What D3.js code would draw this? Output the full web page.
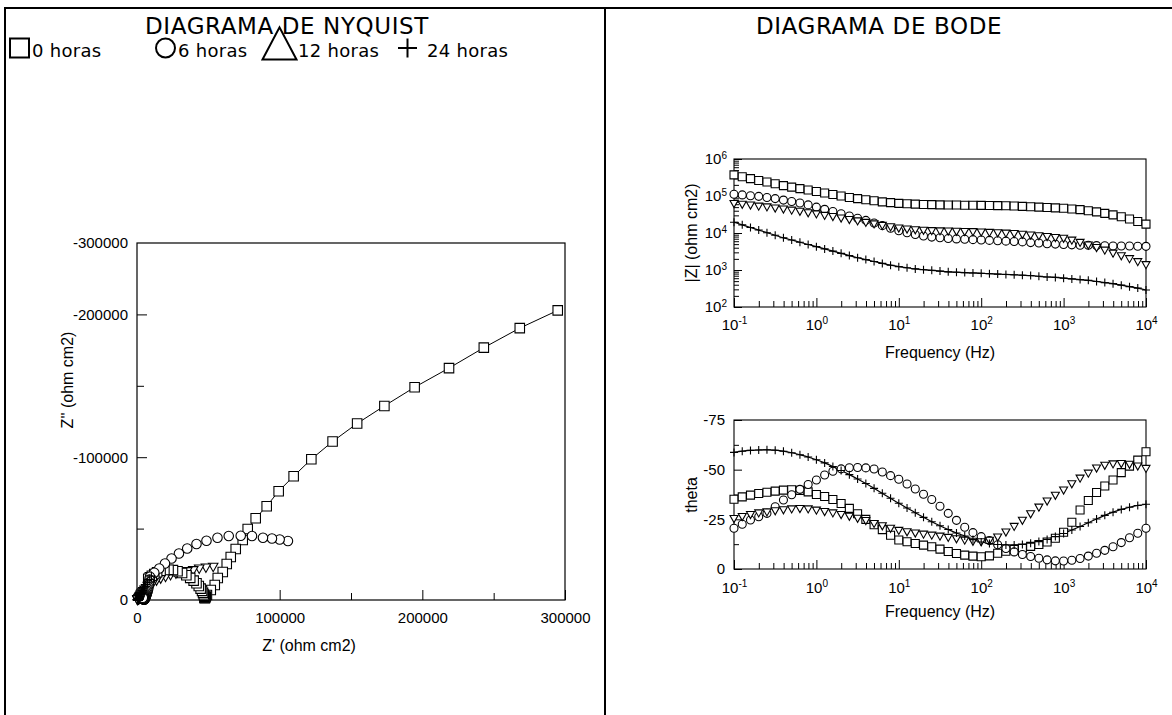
<!DOCTYPE html>
<html>
<head>
<meta charset="utf-8">
<script src="https://cdn.jsdelivr.net/npm/d3@7"></script>
<style>
  body { margin: 0; background: #fff; }
  svg { display: block; }
  text { fill: #000; }
</style>
</head>
<body>
<svg id="chart" width="1172" height="715"></svg>
<script>
// ---- measurement frequencies (Hz), 10 points per decade ----
const freqHz = [0.1,0.1259,0.1585,0.1995,0.2512,0.3162,0.3981,0.5012,0.631,0.7943,
  1,1.259,1.585,1.995,2.512,3.162,3.981,5.012,6.31,7.943,
  10,12.59,15.85,19.95,25.12,31.62,39.81,50.12,63.1,79.43,
  100,125.9,158.5,199.5,251.2,316.2,398.1,501.2,631,794.3,
  1000,1259,1585,1995,2512,3162,3981,5012,6310,7943,10000];

const seriesNames = ["0 horas", "6 horas", "12 horas", "24 horas"];

// ---- |Z| (ohm cm2) ----
const modZ0h = [372000,331000,295000,263000,240000,214000,191000,174000,158000,145000,
  132000,120000,110000,100000,91200,85100,79400,74100,69200,66100,
  63100,61700,60300,58900,58500,57500,57300,57000,56200,56000,
  55800,55500,55000,54500,53700,52500,51300,50100,49000,47900,
  46800,44700,42700,39800,37200,33900,30900,27500,24000,20400,17400];
const modZ6h = [112000,107000,102000,97700,91200,85100,77600,70800,64600,57500,
  50100,43600,38000,33100,28800,25100,21900,18600,15800,13500,
  11500,10200,9120,8320,7760,7410,7080,6920,6760,6610,
  6460,6310,6170,6030,5890,5750,5500,5370,5130,5010,
  4900,4790,4680,4650,4570,4540,4470,4460,4450,4370,4360];
const modZ12h = [63100,60300,57500,53700,51300,47900,44700,41700,38900,35500,
  33100,30200,28200,25700,23400,21400,19500,17800,16200,14800,
  13800,12900,12300,12000,11700,11500,11400,11200,11100,11000,
  10700,10500,10200,10000,9770,9330,8910,8510,8130,7590,
  7240,6460,5620,4790,4070,3470,2880,2450,2040,1700,1410];
const modZ24h = [19500,16600,14100,12000,10200,8710,7410,6460,5620,4900,
  4270,3720,3240,2820,2450,2140,1910,1700,1510,1350,
  1230,1150,1070,1020,977,933,891,871,851,832,
  813,794,776,759,741,724,708,676,646,631,
  603,575,550,525,490,457,427,389,355,324,288];

// ---- phase angle theta (degrees) ----
const theta0h = [-35.1,-36.3,-37.2,-38.0,-38.6,-39.2,-39.7,-39.9,-39.6,-38.8,
  -37.5,-36.5,-35.0,-33.0,-30.5,-27.8,-25.0,-22.3,-19.8,-17.0,
  -14.6,-13.7,-12.8,-12.0,-11.2,-10.0,-8.8,-7.8,-7.0,-6.5,
  -6.2,-6.6,-7.9,-8.9,-9.8,-10.6,-11.4,-12.3,-13.6,-15.5,
  -18.5,-23.5,-29.7,-34.5,-38.5,-41.8,-44.8,-48.5,-51.8,-54.8,-59.0];
const theta6h = [-20.5,-22.5,-24.7,-26.3,-28.0,-31.3,-34.7,-37.4,-40.1,-42.5,
  -44.8,-47.3,-49.2,-50.4,-51.0,-51.1,-50.9,-50.3,-48.8,-47.0,
  -45.2,-42.8,-40.3,-37.6,-35.0,-31.6,-28.0,-24.5,-21.0,-18.3,
  -16.3,-14.3,-12.2,-10.3,-8.6,-7.3,-6.3,-5.4,-4.6,-4.1,
  -4.0,-4.4,-5.3,-6.5,-7.9,-9.4,-11.2,-13.3,-15.7,-18.0,-20.5];
const theta12h = [-25.5,-26.5,-27.5,-28.3,-28.8,-29.4,-29.9,-30.3,-30.5,-30.3,
  -29.7,-29.0,-28.3,-27.5,-26.6,-25.6,-24.5,-23.0,-21.8,-20.6,
  -19.5,-18.8,-18.2,-17.6,-17.1,-16.6,-16.0,-15.3,-14.6,-14.0,
  -13.8,-14.5,-16.2,-18.7,-21.5,-24.6,-27.9,-31.2,-34.3,-37.2,
  -39.8,-43.0,-45.8,-48.3,-50.9,-52.3,-53.0,-53.2,-52.8,-51.9,-50.7];
const theta24h = [-58.7,-59.3,-59.7,-59.9,-60.0,-59.8,-59.3,-58.5,-57.5,-56.4,
  -55.0,-53.4,-51.6,-49.6,-47.5,-45.3,-43.0,-40.6,-38.1,-35.6,
  -33.1,-30.7,-28.3,-26.0,-23.8,-21.8,-19.9,-18.1,-16.6,-14.8,
  -13.6,-12.8,-12.3,-12.1,-12.1,-12.3,-13.0,-13.8,-14.9,-16.3,
  -17.9,-19.6,-21.4,-23.3,-25.2,-27.0,-28.6,-30.0,-31.1,-32.0,-32.6];

// ---- Nyquist: real part Z' and imaginary part Z'' (ohm cm2) ----
const zRe0h = [294900,268300,243100,218700,194600,173400,154300,137100,122200,109800,
  99300,90900,83200,77600,74100,69200,65700,62900,60100,56600,
  54500,51700,49000,48200,47800,47600,47500,47500,47400,47300,
  47100,46800,46300,45600,44600,43300,41700,39700,37300,34600,
  31600,28400,25200,22100,19200,16500,14100,12100,10400,9000,7900];
const zIm0h = [-202800,-190400,-176700,-162400,-149000,-135900,-123600,-111000,-98600,-86700,
  -76200,-65700,-57300,-49700,-42000,-35700,-30100,-25200,-19600,-15400,
  -10500,-7000,-3500,-2400,-1800,-1500,-1400,-1500,-1800,-2300,
  -3000,-3900,-5000,-6400,-8000,-9800,-11700,-13600,-15500,-17300,
  -18900,-20100,-20900,-21200,-21000,-20400,-19400,-18200,-17000,-15900,-14900];
const zRe6h = [105800,100000,94600,88300,80600,72700,64300,56400,48700,41700,
  35200,29400,24200,19600,15600,12100,9100,8700,8400,8200,
  8000,7800,7500,7200,6900,6600,6400,6200,6000,5900,
  5800,5700,5600,5500,5400,5300,5200,5100,5000,4950,
  4900,4800,4750,4700,4650,4600,4500,4400,4300,4200,4100];
const zIm6h = [-41300,-42400,-43100,-43600,-44800,-45000,-44800,-43600,-41500,-39200,
  -36100,-32600,-29100,-25600,-22100,-19100,-16300,-14300,-12400,-10600,
  -9000,-7600,-6400,-5400,-4600,-3900,-3300,-2800,-2400,-2000,
  -1700,-1400,-1200,-1000,-850,-700,-600,-500,-400,-350,
  -340,-370,-440,-530,-640,-760,-900,-1050,-1200,-1370,-1530];
const zRe12h = [53400,48300,43600,39400,35200,31200,27300,23500,20000,16600,
  13700,11300,9300,7700,6400,5300,4400,3700,3100,2700,
  2400,2150,1950,1800,1680,1580,1500,1430,1370,1320,
  1270,1220,1170,1120,1070,1020,970,920,870,820,
  770,720,670,620,570,520,470,430,390,350,310];
const zIm12h = [-23300,-22800,-22100,-21000,-20300,-19400,-18600,-17500,-16300,-15200,
  -13800,-12400,-11000,-9700,-8500,-7400,-6400,-5500,-4700,-4000,
  -3400,-2900,-2450,-2100,-1800,-1550,-1350,-1200,-1080,-980,
  -900,-840,-800,-770,-750,-730,-720,-710,-700,-690,
  -680,-670,-650,-630,-600,-570,-530,-490,-450,-410,-370];
const zRe24h = [10100,8600,7300,6200,5300,4500,3900,3400,3000,2700,
  2400,2200,2000,1850,1700,1580,1470,1380,1300,1230,
  1160,1110,1060,1020,980,950,920,890,870,850,
  830,810,790,770,750,730,710,690,670,650,
  630,600,570,540,500,460,420,380,340,300,250];
const zIm24h = [-16700,-14400,-12500,-10800,-9200,-7800,-6600,-5500,-4600,-3900,
  -3400,-2900,-2500,-2100,-1800,-1500,-1250,-1050,-880,-750,
  -640,-550,-470,-400,-350,-300,-260,-230,-210,-190,
  -180,-175,-170,-170,-170,-170,-175,-180,-185,-190,
  -195,-200,-205,-210,-210,-205,-200,-190,-180,-165,-150];

// ---- axis ticks ----
const nyqXTicks = [0, 100000, 200000, 300000];
const nyqXMinor = [50000, 150000, 250000];
const nyqYTicks = [0, -100000, -200000];
const nyqYMinor = [-50000, -150000];
const freqTicks = [0.1, 1, 10, 100, 1000, 10000];
const modZTicks = [100, 1000, 10000, 100000, 1000000];
const thetaTicks = [0, -25, -50, -75];
const thetaMinor = [-12.5, -37.5, -62.5];

const markerOf = ["square", "circle", "triDown", "plus"];

const svg = d3.select("#chart");
const FONT = "'Liberation Sans', Arial, sans-serif";
const hyphenFmt = d => (d < 0 ? "-" : "") + Math.abs(d);

// ---- marker shapes ----
function markerPath(type, s) {
  const h = s / 2;
  if (type === "square") return `M${-h},${-h}H${h}V${h}H${-h}Z`;
  if (type === "circle") return d3.symbol(d3.symbolCircle, Math.PI * h * h)();
  if (type === "triDown") return `M${-h},${-h * 0.72}L${h},${-h * 0.72}L0,${h * 1.05}Z`;
  if (type === "triUp") return `M${-h},${h * 0.8}L${h},${h * 0.8}L0,${-h * 1.1}Z`;
  if (type === "plus") return `M${-h},0H${h}M0,${-h}V${h}`;
}
function drawMarkers(g, pts, type, s) {
  g.selectAll(null).data(pts).join("path")
    .attr("d", markerPath(type, s))
    .attr("transform", d => `translate(${d[0]},${d[1]})`)
    .attr("fill", type === "plus" ? "none" : "#fff")
    .attr("stroke", "#000")
    .attr("stroke-width", 1.1);
}

// ---- table borders ----
const border = svg.append("g").attr("stroke", "#000").attr("stroke-width", 2);
border.append("line").attr("x1", 4).attr("x2", 1172).attr("y1", 8).attr("y2", 8);
border.append("line").attr("x1", 5).attr("x2", 5).attr("y1", 8).attr("y2", 715);
border.append("line").attr("x1", 605).attr("x2", 605).attr("y1", 8).attr("y2", 715);

// ---- titles ----
const titleFont = "23px 'DejaVu Sans', sans-serif";
svg.append("text").attr("x", 287).attr("y", 34).attr("text-anchor", "middle")
  .style("font", titleFont).style("letter-spacing", "0.6px").text("DIAGRAMA DE NYQUIST");
svg.append("text").attr("x", 879).attr("y", 34).attr("text-anchor", "middle")
  .style("font", titleFont).style("letter-spacing", "0.6px").text("DIAGRAMA DE BODE");

// ---- legend ----
const legendSym = ["square", "circle", "triUp", "plus"];
const legendX = [10, 156, 262, 398];
const legend = svg.append("g");
seriesNames.forEach((name, i) => {
  const g = legend.append("g").attr("transform", `translate(${legendX[i]},0)`);
  const s = 19;
  const tri = legendSym[i] === "triUp";
  g.append("path").attr("d", markerPath(legendSym[i], tri ? 34 : s))
    .attr("transform", `translate(${s / 2 + (tri ? 8 : 0)},${tri ? 46 : 48})`)
    .attr("fill", "none").attr("stroke", "#000").attr("stroke-width", 2);
  g.append("text").attr("x", tri ? 36 : (legendSym[i] === "plus" ? 29 : 22)).attr("y", 56.5)
    .style("font", "18px 'DejaVu Sans', sans-serif").style("letter-spacing", "0.3px").text(name);
});

// ---- helpers for tick drawing ----
function styleAxis(g) {
  g.select(".domain").remove();
  g.selectAll("line").attr("stroke", "#000").attr("stroke-width", 1);
  g.selectAll("text").style("font", `15px ${FONT}`).attr("fill", "#000");
}
function powLabels(g) {
  g.selectAll("text").each(function (d) {
    const t = d3.select(this);
    const e = Math.round(Math.log10(d));
    t.text(null);
    t.append("tspan").text("10");
    t.append("tspan").attr("dy", "-0.55em").style("font-size", "10px").text(e);
  });
}

// =================== NYQUIST ===================
const nx = d3.scaleLinear().domain([0, 300000]).range([137, 565]);
const ny = d3.scaleLinear().domain([0, -250000]).range([600, 243]);
const nyq = svg.append("g");

nyq.append("rect").attr("x", nx(0)).attr("y", ny(-250000))
  .attr("width", nx(300000) - nx(0)).attr("height", ny(0) - ny(-250000))
  .attr("fill", "none").attr("stroke", "#000").attr("stroke-width", 1.2);

nyq.append("g").attr("transform", `translate(0,${ny(0)})`)
  .call(d3.axisBottom(nx).tickValues(nyqXTicks).tickSize(-10).tickPadding(12)
    .tickFormat(hyphenFmt)).call(styleAxis);
nyq.append("g").attr("transform", `translate(0,${ny(0)})`)
  .call(d3.axisBottom(nx).tickValues(nyqXMinor).tickSize(-7).tickFormat("")).call(styleAxis);
nyq.append("g").attr("transform", `translate(${nx(0)},0)`)
  .call(d3.axisLeft(ny).tickValues(nyqYTicks).tickSize(-10).tickPadding(9)
    .tickFormat(hyphenFmt)).call(styleAxis);
nyq.append("g").attr("transform", `translate(${nx(0)},0)`)
  .call(d3.axisLeft(ny).tickValues(nyqYMinor).tickSize(-7).tickFormat("")).call(styleAxis);
nyq.append("text").attr("x", nx(0) - 9).attr("y", ny(-250000)).attr("dy", "0.32em")
  .attr("text-anchor", "end").style("font", `15px ${FONT}`).text("-300000");

nyq.append("text").attr("x", 309).attr("y", 651)
  .attr("text-anchor", "middle").style("font", `16px ${FONT}`).text("Z' (ohm cm2)");
nyq.append("text").attr("transform", `translate(73,380) rotate(-90)`)
  .attr("text-anchor", "middle").style("font", `16px ${FONT}`).text("Z'' (ohm cm2)");

const nyqRe = [zRe0h, zRe6h, zRe12h, zRe24h];
const nyqIm = [zIm0h, zIm6h, zIm12h, zIm24h];
const nyqPts = nyqRe.map((re, k) => re.map((v, i) => [nx(v), ny(nyqIm[k][i])]));

nyq.append("path").attr("d", d3.line()(nyqPts[0]))
  .attr("fill", "none").attr("stroke", "#000").attr("stroke-width", 1);
[2, 0, 1, 3].forEach(k => drawMarkers(nyq.append("g"), nyqPts[k], markerOf[k], 9.5));

// =================== BODE |Z| ===================
const bx = d3.scaleLog().domain([0.1, 10000]).range([734, 1146]);
const bzy = d3.scaleLog().domain([100, 1000000]).range([307, 159]);
const bz = svg.append("g");
const minorFreq = bx.ticks().filter(v => !freqTicks.some(t => Math.abs(t - v) / t < 1e-6));

function logFrame(g, yScale, pad, titleGap) {
  const [y0, y1] = yScale.range();
  g.append("rect").attr("x", 734).attr("y", y1).attr("width", 1146 - 734).attr("height", y0 - y1)
    .attr("fill", "none").attr("stroke", "#000").attr("stroke-width", 1.1);
  g.append("g").attr("transform", `translate(0,${y0})`)
    .call(d3.axisBottom(bx).tickValues(freqTicks).tickSize(-9).tickPadding(pad)).call(styleAxis).call(powLabels);
  g.append("g").attr("transform", `translate(0,${y0})`)
    .call(d3.axisBottom(bx).tickValues(minorFreq).tickSize(-6).tickFormat("")).call(styleAxis);
  g.append("text").attr("x", 940).attr("y", y0 + titleGap).attr("text-anchor", "middle")
    .style("font", `16px ${FONT}`).text("Frequency (Hz)");
}
logFrame(bz, bzy, 12, 51);
const minorZ = bzy.ticks().filter(v => !modZTicks.some(t => Math.abs(t - v) / t < 1e-6));
bz.append("g").attr("transform", "translate(734,0)")
  .call(d3.axisLeft(bzy).tickValues(modZTicks).tickSize(-8).tickPadding(7)).call(styleAxis).call(powLabels);
bz.append("g").attr("transform", "translate(734,0)")
  .call(d3.axisLeft(bzy).tickValues(minorZ).tickSize(-5).tickFormat("")).call(styleAxis);
bz.append("text").attr("transform", `translate(697,233) rotate(-90)`).attr("text-anchor", "middle")
  .style("font", `16px ${FONT}`).text("|Z| (ohm cm2)");

const modZ = [modZ0h, modZ6h, modZ12h, modZ24h];
const modPts = modZ.map(arr => arr.map((v, i) => [bx(freqHz[i]), bzy(v)]));
bz.append("path").attr("d", d3.line().curve(d3.curveCatmullRom)(modPts[3]))
  .attr("fill", "none").attr("stroke", "#000").attr("stroke-width", 1.2);
[0, 1, 2, 3].forEach(k => drawMarkers(bz.append("g"), modPts[k], markerOf[k], 8));

// =================== BODE theta ===================
const bty = d3.scaleLinear().domain([0, -75]).range([569, 420]);
const bt = svg.append("g");
logFrame(bt, bty, 13, 48);
bt.append("g").attr("transform", "translate(734,0)")
  .call(d3.axisLeft(bty).tickValues(thetaTicks).tickSize(-8).tickPadding(9).tickFormat(hyphenFmt)).call(styleAxis);
bt.append("g").attr("transform", "translate(734,0)")
  .call(d3.axisLeft(bty).tickValues(thetaMinor).tickSize(-5).tickFormat("")).call(styleAxis);
bt.append("text").attr("transform", `translate(697,495) rotate(-90)`).attr("text-anchor", "middle")
  .style("font", `16px ${FONT}`).text("theta");

const thetas = [theta0h, theta6h, theta12h, theta24h];
const thPts = thetas.map(arr => arr.map((v, i) => [bx(freqHz[i]), bty(v)]));
bt.append("path").attr("d", d3.line().curve(d3.curveCatmullRom)(thPts[3]))
  .attr("fill", "none").attr("stroke", "#000").attr("stroke-width", 1.2);
[0, 1, 2, 3].forEach(k => drawMarkers(bt.append("g"), thPts[k], markerOf[k], 8));
</script>
</body>
</html>
